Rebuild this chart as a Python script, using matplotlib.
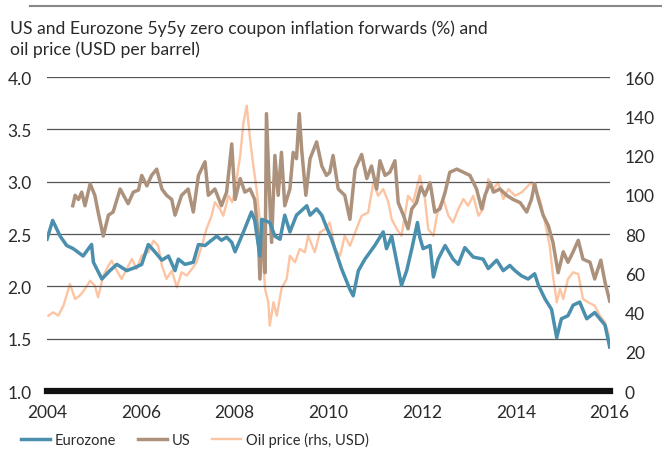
import matplotlib.pyplot as plt

# Eurozone 5y5y inflation forward (%), lhs
ez_t = [2004.0, 2004.12, 2004.28, 2004.42, 2004.56, 2004.77, 2004.95, 2004.99, 2005.17, 2005.34,
        2005.49, 2005.70, 2005.88, 2006.02, 2006.16, 2006.30, 2006.45, 2006.59, 2006.73, 2006.80,
        2006.94, 2007.12, 2007.23, 2007.37, 2007.62, 2007.72, 2007.83, 2007.94, 2008.01, 2008.19,
        2008.36, 2008.43, 2008.54, 2008.58, 2008.75, 2008.86, 2008.97, 2009.07, 2009.18, 2009.32,
        2009.54, 2009.61, 2009.75, 2009.86, 2009.93, 2010.07, 2010.28, 2010.46, 2010.53, 2010.64,
        2010.78, 2010.99, 2011.17, 2011.24, 2011.35, 2011.46, 2011.56, 2011.67, 2011.78, 2011.90,
        2011.95, 2012.02, 2012.17, 2012.24, 2012.34, 2012.49, 2012.66, 2012.77, 2012.91, 2013.09,
        2013.30, 2013.41, 2013.59, 2013.73, 2013.87, 2013.98, 2014.12, 2014.26, 2014.40, 2014.48,
        2014.62, 2014.76, 2014.87, 2014.97, 2015.11, 2015.22, 2015.36, 2015.51, 2015.68, 2015.79,
        2015.90, 2016.0]
ez_v = [2.45, 2.63, 2.48, 2.39, 2.36, 2.29, 2.40, 2.23, 2.07, 2.15,
        2.21, 2.15, 2.18, 2.21, 2.40, 2.33, 2.25, 2.29, 2.15, 2.26,
        2.21, 2.23, 2.40, 2.39, 2.48, 2.44, 2.47, 2.42, 2.33, 2.52,
        2.71, 2.63, 2.29, 2.64, 2.61, 2.48, 2.45, 2.68, 2.52, 2.68,
        2.77, 2.68, 2.74, 2.68, 2.60, 2.45, 2.17, 1.97, 1.91, 2.15,
        2.26, 2.39, 2.52, 2.36, 2.48, 2.23, 2.01, 2.15, 2.36, 2.61,
        2.47, 2.36, 2.39, 2.09, 2.26, 2.39, 2.26, 2.21, 2.37, 2.28,
        2.26, 2.17, 2.25, 2.15, 2.20, 2.15, 2.10, 2.07, 2.12, 2.01,
        1.88, 1.78, 1.51, 1.69, 1.72, 1.82, 1.85, 1.69, 1.75, 1.69,
        1.63, 1.42]

# US 5y5y inflation forward (%), lhs
us_t = [2004.55, 2004.60, 2004.67, 2004.74, 2004.81, 2004.92, 2005.02, 2005.09, 2005.20, 2005.31,
        2005.41, 2005.56, 2005.73, 2005.84, 2005.95, 2006.02, 2006.13, 2006.23, 2006.34, 2006.45,
        2006.55, 2006.66, 2006.73, 2006.87, 2007.01, 2007.12, 2007.23, 2007.37, 2007.44, 2007.58,
        2007.72, 2007.83, 2007.94, 2008.01, 2008.12, 2008.22, 2008.33, 2008.43, 2008.51, 2008.54,
        2008.61, 2008.65, 2008.68, 2008.74, 2008.79, 2008.86, 2008.93, 2009.0, 2009.07, 2009.18,
        2009.25, 2009.32, 2009.38, 2009.43, 2009.52, 2009.61, 2009.75, 2009.86, 2009.96, 2010.03,
        2010.10, 2010.21, 2010.35, 2010.46, 2010.57, 2010.71, 2010.82, 2010.92, 2011.03, 2011.10,
        2011.21, 2011.31, 2011.42, 2011.49, 2011.60, 2011.70, 2011.78, 2011.88, 2011.97, 2012.06,
        2012.17, 2012.27, 2012.38, 2012.49, 2012.59, 2012.74, 2012.88, 2013.02, 2013.16, 2013.27,
        2013.34, 2013.45, 2013.52, 2013.66, 2013.80, 2013.94, 2014.09, 2014.23, 2014.33, 2014.40,
        2014.48, 2014.58, 2014.69, 2014.79, 2014.90, 2015.01, 2015.11, 2015.22, 2015.33, 2015.43,
        2015.58, 2015.68, 2015.81, 2015.90, 2016.0]
us_v = [2.77, 2.87, 2.83, 2.90, 2.77, 2.98, 2.87, 2.71, 2.48, 2.68,
        2.71, 2.93, 2.79, 2.90, 2.92, 3.06, 2.96, 3.06, 3.12, 2.93,
        2.87, 2.83, 2.68, 2.87, 2.93, 2.71, 3.06, 3.19, 2.87, 2.93,
        2.77, 2.90, 3.36, 2.83, 3.03, 2.90, 2.93, 2.83, 2.45, 2.07,
        2.61, 2.13, 3.65, 2.93, 2.42, 3.25, 2.87, 3.28, 2.77, 2.93,
        3.28, 3.22, 3.65, 3.31, 2.87, 3.22, 3.38, 3.15, 3.06, 3.09,
        3.25, 2.93, 2.87, 2.64, 3.12, 3.26, 3.03, 3.15, 2.93, 3.20,
        3.06, 3.09, 3.20, 2.80, 2.68, 2.55, 2.74, 2.80, 2.95, 2.87,
        2.99, 2.71, 2.74, 2.90, 3.09, 3.12, 3.09, 3.06, 2.93, 2.74,
        2.87, 2.99, 2.90, 2.93, 2.87, 2.83, 2.80, 2.71, 2.83, 2.98,
        2.83, 2.68, 2.58, 2.42, 2.13, 2.33, 2.23, 2.33, 2.44, 2.26,
        2.23, 2.07, 2.25, 2.04, 1.86]

# Oil price (USD per barrel), rhs
oil_t = [2004.03, 2004.13, 2004.24, 2004.35, 2004.49, 2004.60, 2004.70, 2004.81, 2004.92, 2005.02,
         2005.09, 2005.20, 2005.31, 2005.38, 2005.49, 2005.59, 2005.70, 2005.81, 2005.91, 2006.02,
         2006.16, 2006.27, 2006.37, 2006.45, 2006.55, 2006.66, 2006.77, 2006.87, 2006.98, 2007.09,
         2007.19, 2007.30, 2007.40, 2007.51, 2007.58, 2007.69, 2007.76, 2007.87, 2007.95, 2008.01,
         2008.12, 2008.19, 2008.26, 2008.33, 2008.40, 2008.47, 2008.58, 2008.65, 2008.72, 2008.75,
         2008.83, 2008.90, 2009.0, 2009.11, 2009.18, 2009.29, 2009.39, 2009.50, 2009.57, 2009.71,
         2009.82, 2009.93, 2010.03, 2010.14, 2010.25, 2010.35, 2010.46, 2010.57, 2010.71, 2010.85,
         2010.96, 2011.06, 2011.17, 2011.28, 2011.35, 2011.46, 2011.56, 2011.70, 2011.81, 2011.95,
         2012.06, 2012.13, 2012.24, 2012.34, 2012.45, 2012.56, 2012.66, 2012.77, 2012.88, 2012.98,
         2013.09, 2013.20, 2013.30, 2013.41, 2013.52, 2013.62, 2013.73, 2013.84, 2013.98, 2014.12,
         2014.26, 2014.33, 2014.40, 2014.51, 2014.62, 2014.72, 2014.79, 2014.87, 2014.94, 2015.01,
         2015.11, 2015.22, 2015.33, 2015.43, 2015.54, 2015.68, 2015.79, 2015.90, 2016.0]
oil_v = [38.4, 40.1, 38.4, 43.5, 54.5, 46.9, 48.6, 52.0, 56.2, 53.7,
         47.7, 58.8, 63.9, 66.4, 61.3, 57.1, 62.2, 67.3, 62.2, 68.9,
         70.7, 76.6, 74.0, 63.9, 57.1, 61.3, 52.8, 60.5, 58.8, 62.2,
         65.6, 74.0, 82.5, 89.3, 96.2, 92.7, 89.3, 99.5, 96.2, 102.9,
         119.9, 136.9, 145.4, 128.4, 114.8, 102.9, 77.5, 52.0, 45.2, 33.3,
         45.2, 38.4, 52.0, 57.1, 68.9, 65.6, 72.4, 70.7, 79.1, 70.7,
         80.8, 82.5, 85.9, 72.4, 68.9, 79.1, 74.0, 80.8, 89.3, 91.0,
         106.3, 99.5, 102.9, 96.2, 87.6, 82.5, 79.1, 99.5, 96.2, 109.7,
         97.8, 82.5, 79.1, 92.7, 97.8, 89.3, 85.9, 92.7, 97.8, 94.4,
         99.5, 89.3, 92.7, 108.0, 102.9, 106.3, 97.8, 102.9, 99.5, 101.2,
         104.6, 106.3, 102.9, 97.8, 85.9, 74.0, 58.8, 45.2, 52.0, 46.9,
         57.1, 60.5, 59.6, 46.9, 45.2, 43.5, 38.4, 35.0, 27.0]

years = list(range(2004, 2017, 2))
left_ticks = [1.0, 1.5, 2.0, 2.5, 3.0, 3.5, 4.0]
right_ticks = [0, 20, 40, 60, 80, 100, 120, 140, 160]

c_ez = '#4a8fae'
c_us = '#ac927c'
c_oil = '#fcc4a2'
c_txt = '#2a2a2a'

plt.rcParams['font.family'] = ['Lato', 'DejaVu Sans']

fig = plt.figure(figsize=(6.62, 4.52), dpi=100)
ax = fig.add_axes([0.071, 0.1327, 0.85, 0.6947])
ax2 = ax.twinx()

ax2.plot(oil_t, oil_v, color=c_oil, lw=1.7, zorder=1)
ax.plot(us_t, us_v, color=c_us, lw=2.5, zorder=3)
ax.plot(ez_t, ez_v, color=c_ez, lw=2.5, zorder=4)

ax.set_zorder(ax2.get_zorder() + 1)
ax.patch.set_visible(False)

ax.set_xlim(2004, 2016)
ax.set_ylim(1.0, 4.0)
ax2.set_ylim(0, 160)
ax.set_xticks(years)
ax.set_yticks(left_ticks)
ax.set_yticklabels(['%.1f' % v for v in left_ticks])
ax2.set_yticks(right_ticks)

for v in left_ticks[1:]:
    ax.axhline(v, color='#555555', lw=0.9, zorder=0)
ax.axhline(1.0, color='#111111', lw=4.5, zorder=5, clip_on=False)

for a in (ax, ax2):
    for s in a.spines.values():
        s.set_visible(False)
ax.tick_params(axis='both', length=0, labelsize=12.5, colors=c_txt)
ax.tick_params(axis='y', pad=11)
ax.tick_params(axis='x', pad=9)
ax2.tick_params(axis='y', length=0, labelsize=12.5, colors=c_txt, pad=11)

fig.text(0.015, 0.955, 'US and Eurozone 5y5y zero coupon inflation forwards (%) and\noil price (USD per barrel)',
         fontsize=12.6, color=c_txt, va='top', ha='left', linespacing=1.35)
fig.add_artist(plt.Line2D([0.045, 1.0], [0.984, 0.984], color='#888888', lw=1.5))

h1, = ax.plot([], [], color=c_ez, lw=2.5)
h2, = ax.plot([], [], color=c_us, lw=2.5)
h3, = ax.plot([], [], color=c_oil, lw=1.7)
fig.legend([h1, h2, h3], ['Eurozone', 'US', 'Oil price (rhs, USD)'], loc='lower left',
           bbox_to_anchor=(0.012, -0.02), ncol=3, frameon=False, fontsize=10.5,
           handlelength=2.0, handletextpad=0.3, columnspacing=1.5, labelcolor=c_txt)

fig.savefig('out.png', dpi=100)
